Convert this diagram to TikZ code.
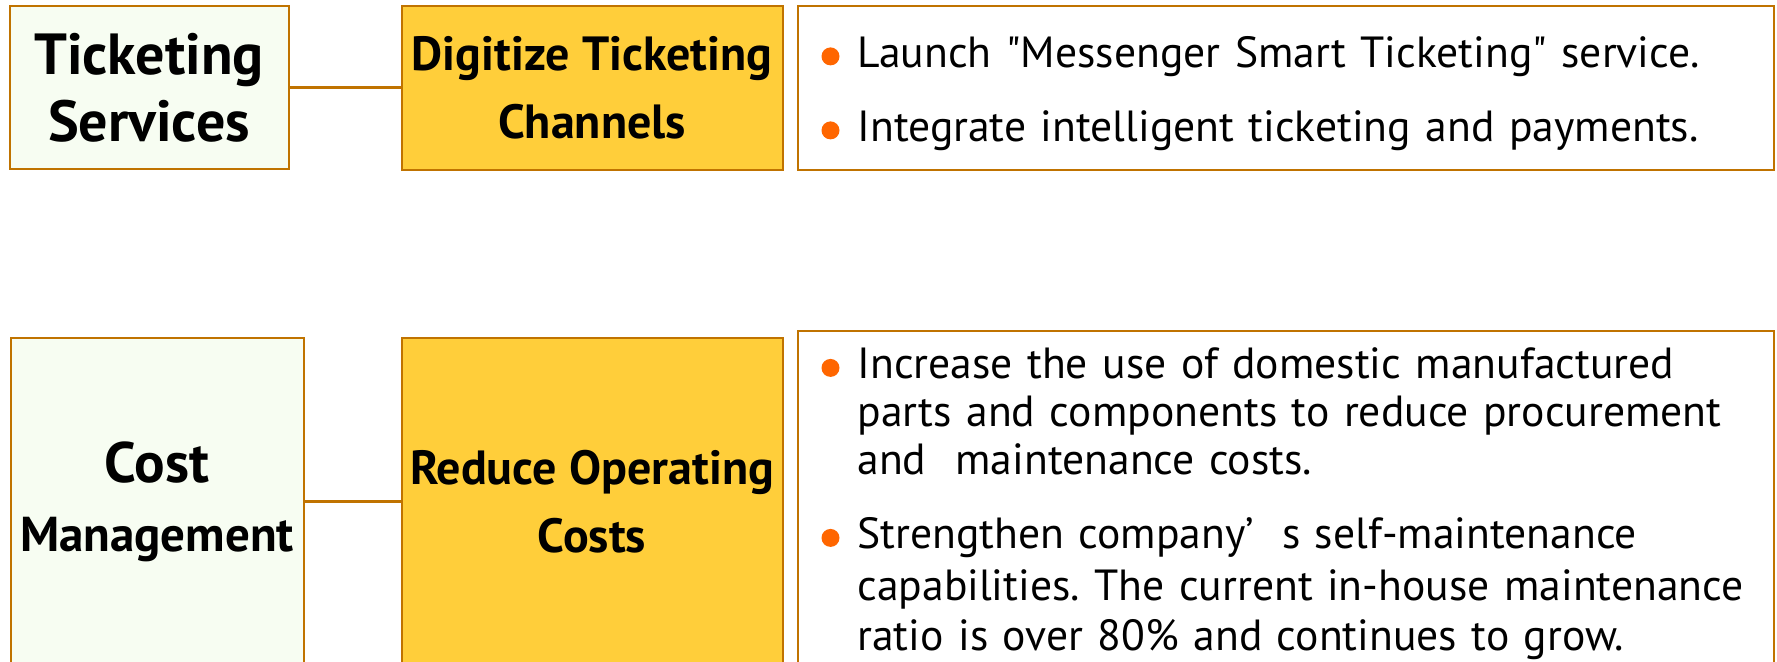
\documentclass[tikz,border=0pt]{standalone}
\usepackage{fontspec}
\setmainfont{PT Sans}[Ligatures=TeXOff]
\usetikzlibrary{positioning}

\definecolor{boxline}{RGB}{192,115,0}
\definecolor{headfill}{RGB}{247,253,242}
\definecolor{midfill}{RGB}{255,206,58}
\definecolor{dotorange}{RGB}{255,102,0}

% orange dot in front of each point
\newcommand{\dotmark}{\tikz[baseline=-0.5ex]\fill[dotorange] (0,0) circle (4.5pt);}
\frenchspacing

\begin{document}
\begin{tikzpicture}[x=0.5pt, y=-0.5pt,
    box/.style = {draw=boxline, line width=1pt},
    headbox/.style = {box, fill=headfill, align=center, font=\bfseries},
    midbox/.style = {box, fill=midfill, align=center, minimum width=190.5pt,
                     font=\bfseries\fontsize{24}{34}\selectfont},
    pointbox/.style = {box, fill=white, align=left, text width=464pt, inner xsep=12pt,
                       font=\fontsize{21.8}{24}\selectfont},
    link/.style = {draw=boxline, line width=1.5pt}]
\useasboundingbox (0,0) rectangle (1777,662);

% top row
\node[headbox, minimum width=139.5pt, minimum height=81.5pt,
      font=\bfseries\fontsize{29}{33.5}\selectfont] (ticket) at (149,88) {Ticketing\\Services};
\node[midbox, minimum height=82pt, right=55.5pt of ticket] (digit) {Digitize Ticketing\\Channels};
\node[pointbox, minimum height=82pt, right=6.5pt of digit] (digitpts) {%
  \begin{tabular}{@{}l@{\hspace{9pt}}l@{}}
  \dotmark & \rule{0pt}{23.5pt}Launch "Messenger Smart Ticketing" service.\\[13pt]
  \dotmark & Integrate intelligent ticketing and payments.
  \end{tabular}};

% bottom row
\node[midbox, minimum height=163.5pt, below=83pt of digit] (reduce) {Reduce Operating\\Costs};
\node[headbox, minimum width=146.5pt, minimum height=163.5pt, left=48pt of reduce,
      font=\bfseries\fontsize{28.5}{34.5}\selectfont] (cost)
      {Cost\\{\fontsize{24.5}{34.5}\selectfont Management}};
\node[pointbox, minimum height=163.5pt, right=6.5pt of reduce] (reducepts) {%
  \begin{tabular}{@{}l@{\hspace{9pt}}l@{}}
  \dotmark & \rule{0pt}{20.5pt}Increase the use of domestic manufactured\\
           & parts and components to reduce procurement\\
           & and\ \ maintenance costs.\\[13pt]
  \dotmark & Strengthen company’\hspace{14pt}s self-maintenance\\[2pt]
           & capabilities. The current in-house maintenance\\[1pt]
           & ratio is over 80\% and continues to grow.
  \end{tabular}};

\draw[link] (ticket) -- (digit);
\draw[link] (cost) -- (reduce);
\end{tikzpicture}
\end{document}
